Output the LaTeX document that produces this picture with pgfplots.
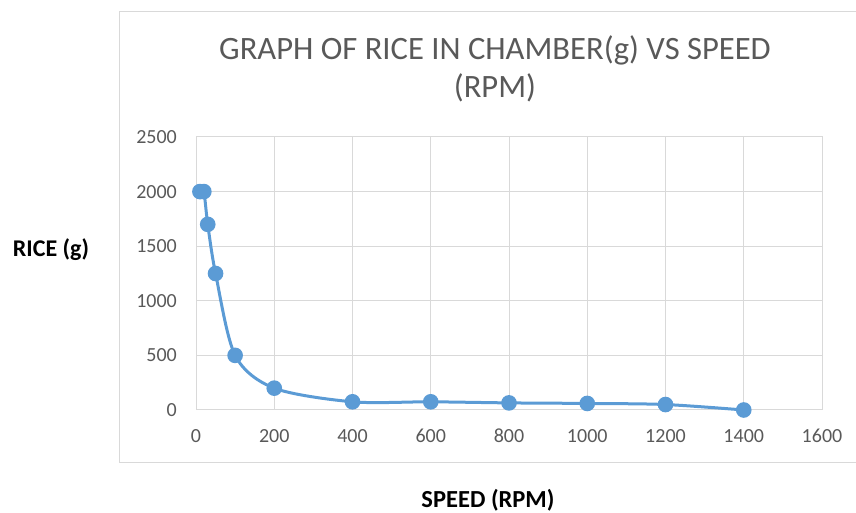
\documentclass[border=0pt]{standalone}
\usepackage{fontspec}
\setmainfont{Carlito}
\usepackage{pgfplots}
\pgfplotsset{compat=1.18}
\definecolor{excelblue}{HTML}{5B9BD5}
\definecolor{gridgray}{HTML}{D9D9D9}
\definecolor{txtgray}{HTML}{595959}
\begin{document}
\begin{tikzpicture}[x=1bp,y=1bp]
\useasboundingbox (0,0) rectangle (856,513);
\draw[gridgray, line width=1bp] (119.5,50) rectangle (880,501);
\node[font=\fontsize{32.6bp}{38bp}\selectfont, text=txtgray, anchor=base] at (495,453) {GRAPH OF RICE IN CHAMBER(g) VS SPEED};
\node[font=\fontsize{32.6bp}{38bp}\selectfont, text=txtgray, anchor=base] at (495,415) {(RPM)};
\node[font=\fontsize{24bp}{28bp}\selectfont\bfseries, anchor=base] at (51,256) {RICE (g)};
\node[font=\fontsize{24.5bp}{28bp}\selectfont\bfseries, anchor=base] at (488,5) {SPEED (RPM)};
\begin{axis}[
  at={(196bp,103bp)}, anchor=south west,
  scale only axis, width=626bp, height=273bp,
  xmin=0, xmax=1600, ymin=0, ymax=2500,
  xtick={0,200,...,1600}, ytick={0,500,...,2500},
  grid=major, major grid style={gridgray, line width=1bp},
  axis line style={gridgray, line width=1bp},
  tick style={draw=none},
  ticklabel style={font=\fontsize{20bp}{24bp}\selectfont, text=txtgray, inner sep=0pt},
  xticklabel style={anchor=north, yshift=-19bp},
  yticklabel style={anchor=east, xshift=-19bp},
  /pgf/number format/assume math mode=true,
  /pgf/number format/1000 sep={},
  clip=false,
]
\addplot[smooth, excelblue, line width=3bp, mark=*, mark size=6.3bp,
  mark options={fill=excelblue, draw=none}]
  coordinates {
  (10,2000) (20,2000) (30,1700) (50,1250) (100,500) (200,200)
  (400,75) (600,75) (800,65) (1000,60) (1200,50) (1400,0)
  };
\end{axis}
\end{tikzpicture}
\end{document}
